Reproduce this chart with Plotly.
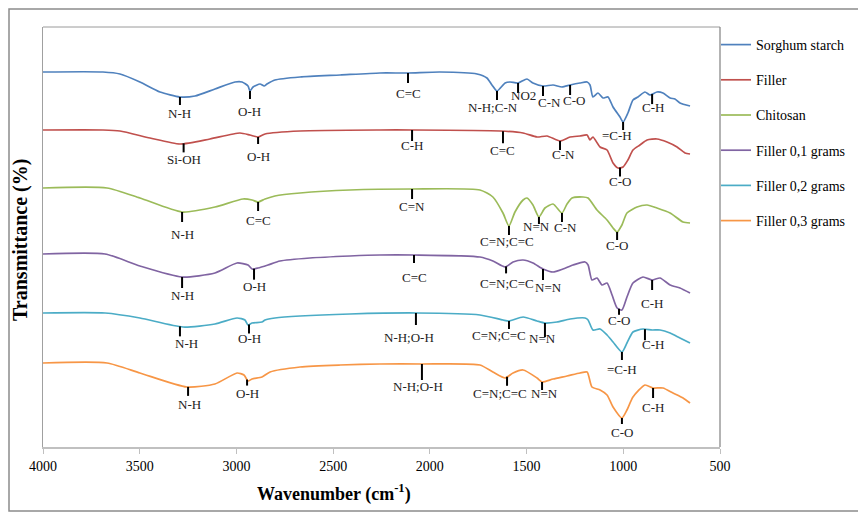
import numpy as np
import plotly.graph_objects as go

# ---------------- data ----------------
series_names = ["Sorghum starch", "Filler", "Chitosan",
                "Filler 0,1 grams", "Filler 0,2 grams", "Filler 0,3 grams"]

sorghum_wn = [4000, 3690, 3602, 3499, 3395, 3292, 3214, 3111, 3007, 2971, 2940, 2930, 2914, 2878, 2857,
              2842, 2801, 2671, 2464, 2258, 2113, 1948, 1756, 1705, 1679, 1653, 1611, 1586, 1544, 1498,
              1467, 1415, 1363, 1317, 1275, 1224, 1187, 1172, 1157, 1131, 1105, 1079, 1053, 1017, 1001,
              976, 950, 924, 888, 862, 826, 795, 758, 733, 707, 655]
sorghum_t = [375, 375, 373, 365, 355, 350, 351, 358, 365, 365, 361, 356, 360, 363, 361,
             363, 367, 370, 372, 374, 374, 375, 373, 369, 362, 356, 364, 365, 364, 368,
             364, 361, 362, 360, 362, 364, 365, 362, 350, 354, 349, 350, 340, 330, 325,
             334, 347, 350, 355, 352, 355, 354, 349, 348, 344, 341]

filler_wn = [4000, 3690, 3602, 3447, 3292, 3137, 2982, 2930, 2888, 2852, 2671, 2258, 2092, 1637, 1518,
             1446, 1394, 1327, 1275, 1224, 1187, 1172, 1157, 1120, 1084, 1053, 1027, 1001, 976, 950,
             914, 877, 826, 774, 722, 681, 655]
filler_t = [317, 317, 316, 309, 303, 308, 314, 312, 310, 313, 316, 317, 317, 316, 314,
            310, 311, 306, 310, 311, 312, 307, 310, 300, 297, 284, 279, 280, 287, 297,
            302, 307, 308, 305, 300, 294, 293]

chitosan_wn = [4000, 3669, 3499, 3281, 3111, 2966, 2919, 2888, 2852, 2801, 2671, 2413, 2092, 1741, 1674,
               1622, 1591, 1560, 1518, 1498, 1467, 1436, 1405, 1363, 1317, 1291, 1265, 1208, 1182, 1136,
               1084, 1053, 1032, 1007, 981, 929, 877, 826, 758, 691, 655]
chitosan_t = [259, 259, 249, 235, 240, 248, 247, 245, 248, 251, 254, 257, 258, 257, 250,
              234, 221, 235, 247, 249, 242, 230, 239, 243, 234, 243, 249, 250, 249, 237,
              227, 219, 215, 222, 234, 240, 242, 239, 234, 225, 224]

f01_wn = [4000, 3679, 3499, 3281, 3111, 2997, 2940, 2919, 2888, 2837, 2775, 2620, 2413, 2258, 2082,
          1741, 1674, 1611, 1570, 1518, 1467, 1415, 1363, 1312, 1260, 1198, 1182, 1162, 1136, 1110,
          1084, 1058, 1032, 1007, 981, 950, 898, 851, 810, 758, 707, 655]
f01_t = [193, 193, 181, 170, 174, 184, 182, 178, 179, 182, 186, 189, 191, 192, 192,
         190, 186, 180, 185, 187, 184, 178, 175, 178, 182, 185, 182, 167, 169, 162,
         164, 152, 139, 137, 150, 164, 170, 167, 169, 162, 159, 154]

f02_wn = [4000, 3679, 3499, 3276, 3111, 2997, 2956, 2940, 2919, 2868, 2852, 2801, 2671, 2413, 2072,
          1741, 1622, 1591, 1518, 1446, 1405, 1343, 1275, 1198, 1182, 1157, 1120, 1084, 1053, 1007,
          981, 950, 898, 851, 810, 758, 707, 655]
f02_t = [134, 134, 129, 120, 123, 129, 127, 122, 124, 125, 127, 129, 131, 133, 134,
         132, 127, 126, 130, 126, 124, 125, 128, 129, 127, 117, 118, 112, 105, 95,
         104, 115, 118, 117, 117, 114, 109, 104]

f03_wn = [4000, 3669, 3499, 3256, 3111, 2997, 2961, 2940, 2919, 2868, 2826, 2671, 2464, 2258, 2041,
          1741, 1674, 1611, 1570, 1518, 1446, 1420, 1363, 1291, 1224, 1187, 1162, 1120, 1084, 1053,
          1007, 981, 950, 888, 846, 795, 743, 691, 655]
f03_t = [84, 84, 74, 60, 63, 74, 72, 66, 68, 70, 75, 80, 82, 83, 83,
         82, 75, 69, 74, 77, 69, 65, 68, 71, 74, 75, 60, 57, 52, 40,
         29, 37, 50, 62, 59, 59, 54, 49, 44]

series_wn = [sorghum_wn, filler_wn, chitosan_wn, f01_wn, f02_wn, f03_wn]
series_t = [sorghum_t, filler_t, chitosan_t, f01_t, f02_t, f03_t]

# band assignments: (series index, wavenumber, label)
band_series = [0, 0, 0, 0, 0, 0, 0, 0, 0,
               1, 1, 1, 1, 1, 1,
               2, 2, 2, 2, 2, 2, 2,
               3, 3, 3, 3, 3, 3, 3,
               4, 4, 4, 4, 4, 4, 4,
               5, 5, 5, 5, 5, 5, 5]
band_wn = [3292, 2930, 2113, 1653, 1544, 1415, 1275, 1001, 851,
           3273, 2888, 2092, 1622, 1327, 1017,
           3281, 2888, 2092, 1591, 1436, 1317, 1032,
           3281, 2909, 2082, 1606, 1415, 1022, 851,
           3292, 2935, 2072, 1591, 1405, 1007, 888,
           3250, 2945, 2041, 1601, 1420, 1007, 846]
band_label = ["N-H", "O-H", "C=C", "N-H;C-N", "NO2", "C-N", "C-O", "=C-H", "C-H",
              "Si-OH", "O-H", "C-H", "C=C", "C-N", "C-O",
              "N-H", "C=C", "C=N", "C=N;C=C", "N=N", "C-N", "C-O",
              "N-H", "O-H", "C=C", "C=N;C=C", "N=N", "C-O", "C-H",
              "N-H", "O-H", "N-H;O-H", "C=N;C=C", "N=N", "=C-H", "C-H",
              "N-H", "O-H", "N-H;O-H", "C=N;C=C", "N=N", "C-O", "C-H"]

x_ticks = [4000, 3500, 3000, 2500, 2000, 1500, 1000, 500]

# ---------------- styling / layout ----------------
colors = ["#4F81BD", "#C0504D", "#9BBB59", "#8064A2", "#4BACC6", "#F79646"]
# per-band marker geometry in pixels: line length, label drop, label x shift
tick_len = [8, 8, 10, 9, 10, 10, 10, 8, 10,
            9, 7, 11, 12, 9, 9,
            10, 9, 10, 9, 7, 9, 8,
            11, 11, 8, 7, 11, 6, 10,
            10, 9, 12, 8, 14, 8, 11,
            9, 6, 16, 9, 8, 6, 10]
label_drop = [16, 20, 20, 16, 12, 16, 15, 13, 13,
              16, 19, 15, 19, 13, 14,
              22, 18, 17, 15, 9, 14, 13,
              18, 18, 22, 17, 18, 12, 23,
              17, 14, 24, 14, 15, 17, 15,
              18, 14, 22, 17, 11, 14, 19]
label_dx = [0, 0, 0, -4, 5, 6, 4, -6, 1,
            0, 0, 0, 0, 3, 0,
            0, 0, 0, -2, -2, 4, 0,
            0, 0, 0, 1, 5, 0, 0,
            7, 0, -7, -10, -2, 0, 8,
            1, 0, -4, -7, 2, 0, 0]

SERIF = "Liberation Serif"

# the page body adds an 8px offset; figure is sized so it fits the 866x514 window
W, H = 858, 506
ML, MT, PW, PH = 35, 19, 677, 420

fig = go.Figure()
for i, name in enumerate(series_names):
    fig.add_trace(go.Scatter(
        x=series_wn[i], y=series_t[i], mode="lines", name=name,
        legendgroup=str(i),
        line=dict(color=colors[i], width=1.7, shape="spline", smoothing=0.6),
    ))

shapes = []
annotations = []
for k, lab in enumerate(band_label):
    s = band_series[k]
    wn = band_wn[k]
    xs = np.array(series_wn[s][::-1], dtype=float)
    ys = np.array(series_t[s][::-1], dtype=float)
    yc = float(np.interp(wn, xs, ys))
    shapes.append(dict(type="line", xref="x", yref="y", x0=wn, x1=wn,
                       y0=yc, y1=yc - tick_len[k],
                       line=dict(color="black", width=2)))
    annotations.append(dict(x=wn, y=yc - label_drop[k], xref="x", yref="y",
                            text=lab, showarrow=False, xshift=label_dx[k],
                            font=dict(family=SERIF, size=13, color="#222222"),
                            xanchor="center", yanchor="middle"))

# outer frame and plot-area top/right border
shapes.append(dict(type="rect", xref="paper", yref="paper",
                   x0=-(ML - 1) / PW, x1=(W - ML - 3) / PW,
                   y0=-(H - MT - PH - 3) / PH, y1=1 + (MT - 1) / PH,
                   line=dict(color="#8c8c8c", width=1.5), layer="below"))
shapes.append(dict(type="line", xref="paper", yref="paper", x0=0, x1=1, y0=1, y1=1,
                   line=dict(color="#9a9a9a", width=1)))
shapes.append(dict(type="line", xref="paper", yref="paper", x0=1, x1=1, y0=0, y1=1,
                   line=dict(color="#808080", width=1.2)))

annotations.append(dict(x=291 / PW, y=-46 / PH, xref="paper", yref="paper",
                        text="<b>Wavenumber (cm<sup>-1</sup>)</b>", showarrow=False,
                        font=dict(family=SERIF, size=18, color="black"),
                        xanchor="center", yanchor="middle"))
annotations.append(dict(x=-23 / PW, y=0.5 - 3 / PH, xref="paper", yref="paper",
                        text="<b>Transmittance (%)</b>", showarrow=False, textangle=-90,
                        font=dict(family=SERIF, size=20, color="black"),
                        xanchor="center", yanchor="middle"))

fig.update_layout(
    width=W, height=H,
    margin=dict(l=ML, r=W - ML - PW, t=MT, b=H - MT - PH, autoexpand=False),
    paper_bgcolor="white", plot_bgcolor="white",
    showlegend=True,
    legend=dict(x=1.0 - 4 / PW, xanchor="left", y=1 - 2 / PH, yanchor="top",
                font=dict(family=SERIF, size=14, color="black"),
                tracegroupgap=14, bgcolor="rgba(0,0,0,0)"),
    xaxis=dict(range=[4000, 500], tickvals=x_ticks, ticktext=[str(v) for v in x_ticks],
               showgrid=False, zeroline=False, showline=True, linecolor="#c0c0c0", linewidth=1.5,
               ticks="outside", ticklen=5, tickcolor="#c0c0c0",
               tickfont=dict(family=SERIF, size=14, color="black")),
    yaxis=dict(range=[0, 420], showticklabels=False, showgrid=False, zeroline=False,
               showline=True, linecolor="#a0a0a0", linewidth=1.2, ticks=""),
    shapes=shapes, annotations=annotations,
)

fig.write_html("out.html")
